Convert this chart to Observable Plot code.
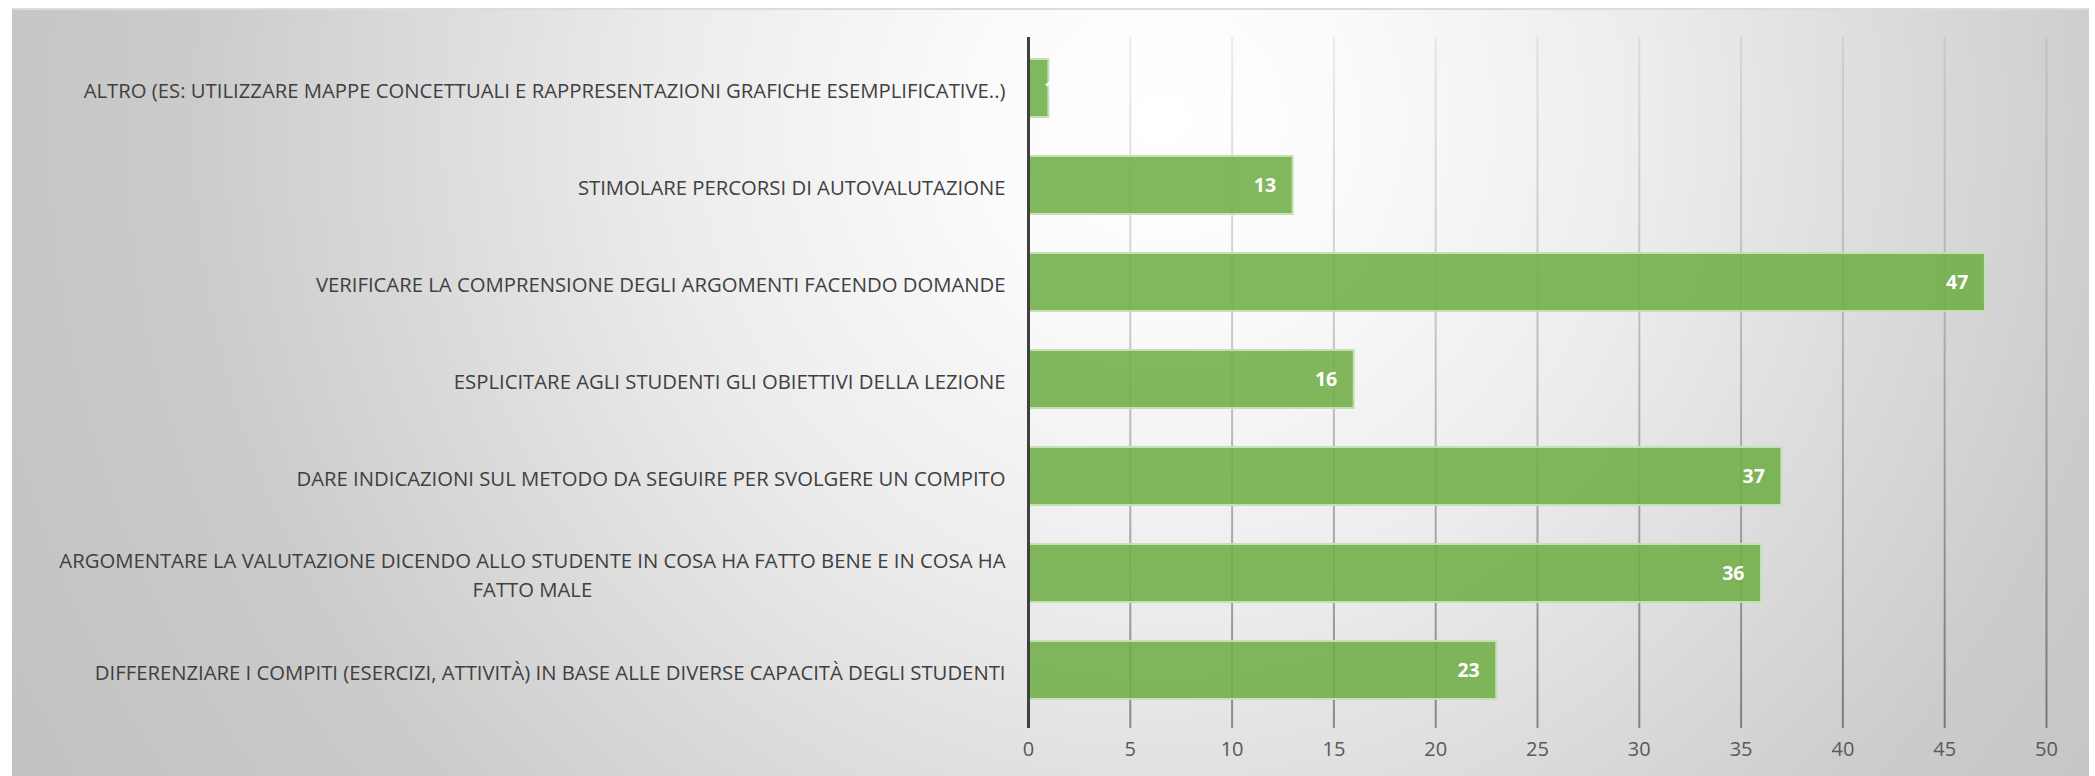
<!DOCTYPE html>
<html><head><meta charset="utf-8">
<script src="https://cdn.jsdelivr.net/npm/d3@7"></script>
<script src="https://cdn.jsdelivr.net/npm/@observablehq/plot@0.6"></script>
<style>
html,body{margin:0;padding:0;background:#fff;}
#wrap{position:relative;width:2095px;height:776px;overflow:hidden;}
#bg{position:absolute;left:12px;top:8px;width:2077px;height:768px;box-sizing:border-box;border-top:2px solid #dcdcdc;
background:radial-gradient(circle 1300px at 1150px 110px,#ffffff 0%,#fbfbfb 14%,#ececec 38%,#dadada 58%,#cbcbcb 75%,#c2c2c2 100%);}
#chart{position:absolute;left:0;top:0;}
</style></head><body><div id="wrap"><div id="bg"></div><div id="chart"></div></div>
<script>
const categories = [
  "ALTRO (ES: UTILIZZARE MAPPE CONCETTUALI E RAPPRESENTAZIONI GRAFICHE ESEMPLIFICATIVE..)",
  "STIMOLARE PERCORSI DI AUTOVALUTAZIONE",
  "VERIFICARE LA COMPRENSIONE DEGLI ARGOMENTI FACENDO DOMANDE",
  "ESPLICITARE AGLI STUDENTI GLI OBIETTIVI DELLA LEZIONE",
  "DARE INDICAZIONI SUL METODO DA SEGUIRE PER SVOLGERE UN COMPITO",
  "ARGOMENTARE LA VALUTAZIONE DICENDO ALLO STUDENTE IN COSA HA FATTO BENE E IN COSA HA\nFATTO MALE",
  "DIFFERENZIARE I COMPITI (ESERCIZI, ATTIVITÀ) IN BASE ALLE DIVERSE CAPACITÀ DEGLI STUDENTI"
];
const values = [1, 13, 47, 16, 37, 36, 23];
const xTicks = [0, 5, 10, 15, 20, 25, 30, 35, 40, 45, 50];

const data = categories.map((c, i) => ({cat: c, value: values[i]}));

const svg = Plot.plot({
  width: 2095, height: 776,
  marginLeft: 1028, marginRight: 49, marginTop: 37, marginBottom: 48,
  style: {background: "transparent", fontFamily: "'Open Sans', sans-serif", overflow: "visible"},
  x: {domain: [0, 50], ticks: xTicks},
  y: {domain: categories, paddingInner: 0.4, paddingOuter: 0.2, insetTop: 2, insetBottom: 8, axis: null},
  marks: [
    Plot.ruleX(xTicks.filter(t => t > 0), {stroke: "url(#gridGrad)", strokeWidth: 2}),
    Plot.barX(data, {y: "cat", x: "value", fill: "#70AD47", fillOpacity: 0.88, stroke: "#c5e0b4", strokeWidth: 2}),
    Plot.ruleX([0], {stroke: "#404040", strokeWidth: 3}),
    Plot.text(data.filter(d => d.value >= 5), {y: "cat", x: "value", text: d => String(d.value), textAnchor: "end", dx: -17, fill: "white", fontWeight: "bold", fontSize: 19.5}),
    Plot.text(data.filter(d => d.value < 5), {y: "cat", x: "value", text: d => String(d.value), textAnchor: "middle", dx: 1, fill: "white", fontWeight: "bold", fontSize: 19.5}),
    Plot.text(data, {y: "cat", text: "cat", frameAnchor: "left", textAnchor: "end", dx: -23, fontSize: 20.3, fill: "#404040", lineHeight: 1.4}),
    Plot.axisX({ticks: xTicks, tickSize: 0, tickPadding: 13, fontSize: 20, fill: "#595959", label: null})
  ]
});

const ns = "http://www.w3.org/2000/svg";
const defs = document.createElementNS(ns, "defs");
defs.innerHTML = `<linearGradient id="gridGrad" gradientUnits="userSpaceOnUse" x1="0" y1="37" x2="0" y2="728">
<stop offset="0" stop-color="#000" stop-opacity="0.07"/>
<stop offset="0.45" stop-color="#000" stop-opacity="0.2"/>
<stop offset="1" stop-color="#000" stop-opacity="0.4"/></linearGradient>`;
svg.insertBefore(defs, svg.firstChild);
document.getElementById("chart").appendChild(svg);

svg.querySelectorAll("text").forEach(t => {
  if (t.querySelectorAll("tspan").length > 1) {
    const b1 = t.getBBox();
    t.setAttribute("text-anchor", "middle");
    const b2 = t.getBBox();
    const delta = (b1.x + b1.width) - (b2.x + b2.width);
    t.setAttribute("transform", (t.getAttribute("transform") || "") + ` translate(${delta},0)`);
  }
});
</script>
</body></html>
